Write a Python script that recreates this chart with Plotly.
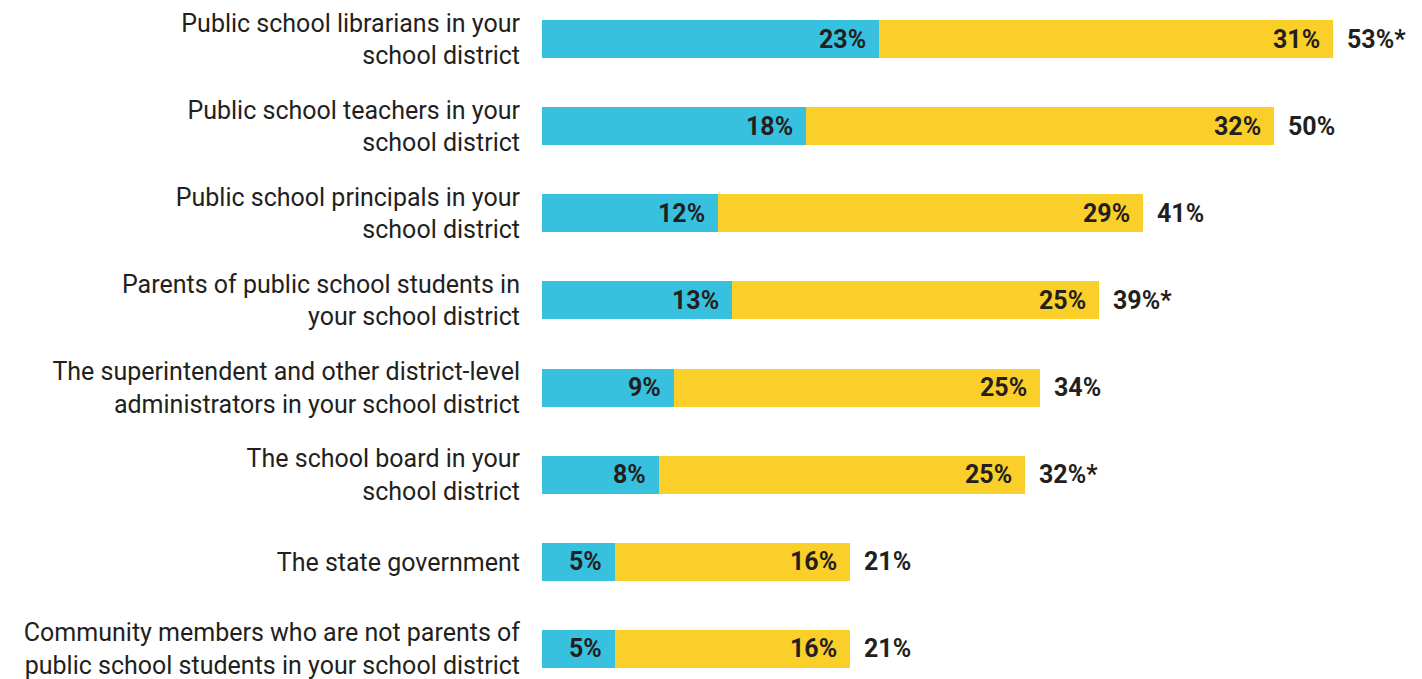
import plotly.graph_objects as go

# Survey groups (top to bottom) and their two response shares, in percent
groups = [
    "Public school librarians in your<br>school district",
    "Public school teachers in your<br>school district",
    "Public school principals in your<br>school district",
    "Parents of public school students in<br>your school district",
    "The superintendent and other district-level<br>administrators in your school district",
    "The school board in your<br>school district",
    "The state government",
    "Community members who are not parents of<br>public school students in your school district",
]
strong = [23, 18, 12, 13, 9, 8, 5, 5]
somewhat = [31, 32, 29, 25, 25, 25, 16, 16]
totals = ["53%*", "50%", "41%", "39%*", "34%", "32%*", "21%", "21%"]

BLUE = "#37C1DF"
YELLOW = "#FBCF2A"
INK = "#231F20"

fig = go.Figure()
fig.add_trace(go.Bar(y=groups, x=strong, orientation="h", marker_color=BLUE,
                     marker_line_width=0, width=0.436, hoverinfo="skip"))
fig.add_trace(go.Bar(y=groups, x=somewhat, orientation="h", marker_color=YELLOW,
                     marker_line_width=0, width=0.436, hoverinfo="skip"))

label_font = dict(family="Roboto", size=25, color=INK, weight=700)
annotations = []
for g, a, b, t in zip(groups, strong, somewhat, totals):
    annotations.append(dict(x=a, y=g, text=f"{a}%", xanchor="right", xshift=-11,
                            showarrow=False, font=label_font))
    annotations.append(dict(x=a + b, y=g, text=f"{b}%", xanchor="right", xshift=-11,
                            showarrow=False, font=label_font))
    annotations.append(dict(x=a + b, y=g, text=t, xanchor="left", xshift=12,
                            showarrow=False, font=label_font))

fig.update_layout(
    barmode="stack",
    width=1422, height=679,
    margin=dict(l=542, r=0, t=0, b=0),
    plot_bgcolor="white", paper_bgcolor="white",
    showlegend=False,
    annotations=annotations,
    xaxis=dict(range=[0, 60.07], visible=False, fixedrange=True),
    yaxis=dict(
        range=[7.3446, -0.4476],
        showgrid=False, zeroline=False, showline=False,
        ticks="", ticklabelstandoff=21,
        tickfont=dict(family="Roboto", size=25, color=INK),
        fixedrange=True,
    ),
)

fig.write_html("out.html", config={"displayModeBar": False})
